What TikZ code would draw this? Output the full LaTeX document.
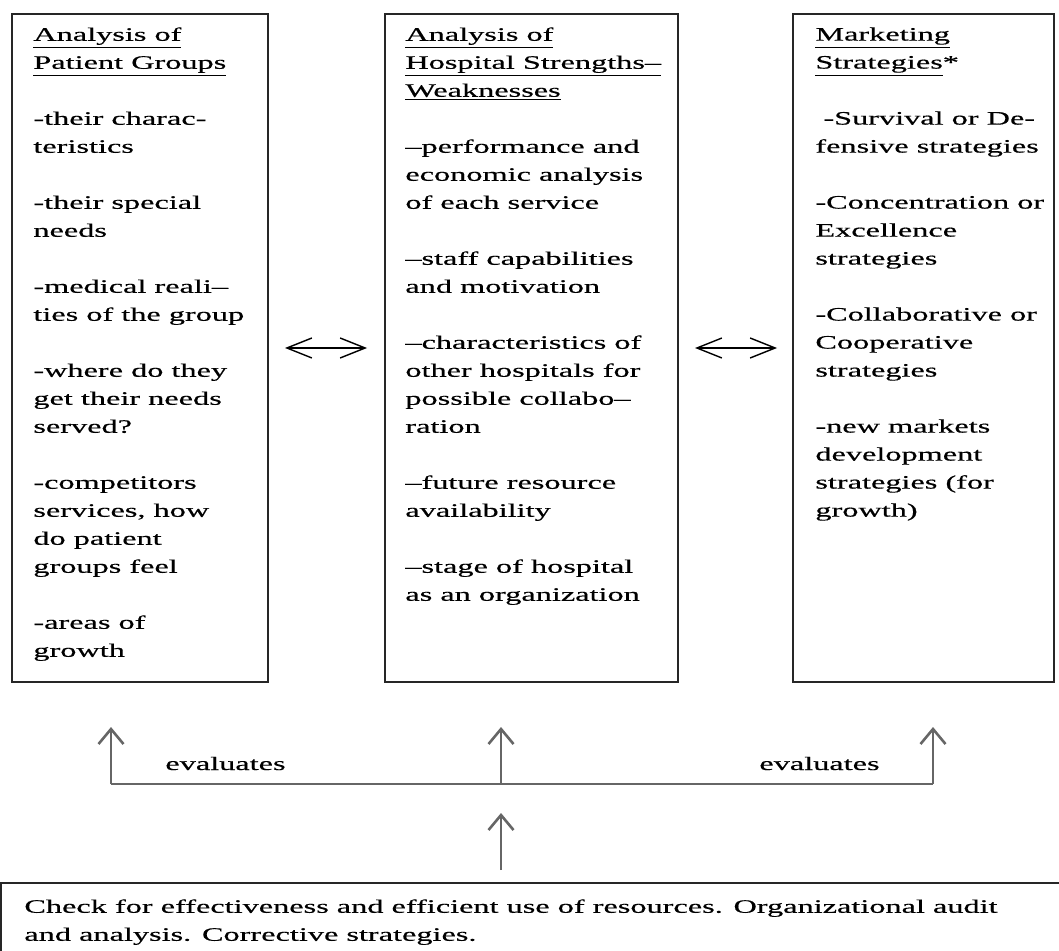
\documentclass[tikz,border=0pt]{standalone}
\usepackage{fontspec}
\setmainfont{Liberation Serif}[FakeStretch=1.7, FakeBold=0.5]
\usetikzlibrary{arrows.meta, positioning}
\tikzset{>={Straight Barb[length=7.5pt,width=12.5pt]}}

\begin{document}
\begin{tikzpicture}[x=0.5pt, y=-0.5pt,
  box/.style={draw=black!85, line width=1pt, inner sep=0pt, outer sep=0pt},
  txt/.style={anchor=north west, inner sep=0pt, align=left, font=\fontsize{9.5}{14}\selectfont},
  link/.style={draw=black!60, line width=1.3pt},
  swap/.style={<->, >={Straight Barb[length=12.5pt,width=10pt]}, line width=0.7pt}]
\useasboundingbox (0,0) rectangle (1059,951);
\clip (0,0) rectangle (1059,951);

% the three columns
\node[box, minimum width=128pt, minimum height=334pt] (pg) at (140,348) {};
\node[box, minimum width=146.5pt, minimum height=334pt] (hs) at (531.5,348) {};
\node[box, minimum width=130.5pt, minimum height=334pt] (ms) at (923.5,348) {};
% audit box at the foot
\node[box, minimum width=534.5pt, minimum height=38.5pt] (audit) at (535.5,921.5) {};

\node[txt] (pgtext) at (33,27) {\underline{Analysis of}\\
\underline{Patient Groups}\\[14pt]
-their charac-\\
teristics\\[14pt]
-their special\\
needs\\[14pt]
-medical reali\textendash\\
ties of the group\\[14pt]
-where do they\\
get their needs\\
served?\\[14pt]
-competitors\\
services, how\\
do patient\\
groups feel\\[14pt]
-areas of\\
growth};

\node[txt] (hstext) at (405,27) {\underline{Analysis of}\\
\underline{Hospital Strengths\textendash}\\
\underline{Weaknesses}\\[14pt]
\textendash performance and\\
economic analysis\\
of each service\\[14pt]
\textendash staff capabilities\\
and motivation\\[14pt]
\textendash characteristics of\\
other hospitals for\\
possible collabo\textendash\\
ration\\[14pt]
\textendash future resource\\
availability\\[14pt]
\textendash stage of hospital\\
as an organization};

\node[txt] (mstext) at (815,27) {\underline{Marketing}\\
\underline{Strategies}*\\[14pt]
\hspace*{4pt}-Survival or De-\\
fensive strategies\\[14pt]
-Concentration or\\
Excellence\\
strategies\\[14pt]
-Collaborative or\\
Cooperative\\
strategies\\[14pt]
-new markets\\
development\\
strategies (for\\
growth)};

\node[txt] (audittext) at (24,899) {Check for effectiveness and efficient use of resources. Organizational audit\\
and analysis. Corrective strategies.};

% two-way links between the columns
\draw[swap] ([xshift=8.5pt]pg.east) -- ([xshift=-9pt]hs.west);
\draw[swap] ([xshift=8.5pt]hs.east) -- ([xshift=-8pt]ms.west);

% evaluation branches
\coordinate (jl) at (111,784);
\coordinate (jm) at (501,784);
\coordinate (jr) at (933,784);
\coordinate (tl) at (111,727);
\coordinate (tm) at (501,727);
\coordinate (tr) at (933,727);
\coordinate (bt) at (501,813);
\coordinate (bb) at (501,870);

\draw[link] (jl) -- (jr);
\draw[link, ->] (jl) -- (tl);
\draw[link, ->] (jm) -- (tm);
\draw[link, ->] (jr) -- (tr);
\draw[link, ->] (bb) -- (bt);

\node[anchor=base west, inner sep=0pt, font=\fontsize{9.5}{14}\selectfont] (evl) at (165,770) {evaluates};
\node[anchor=base west, inner sep=0pt, font=\fontsize{9.5}{14}\selectfont] (evr) at (759,770) {evaluates};
\end{tikzpicture}
\end{document}
